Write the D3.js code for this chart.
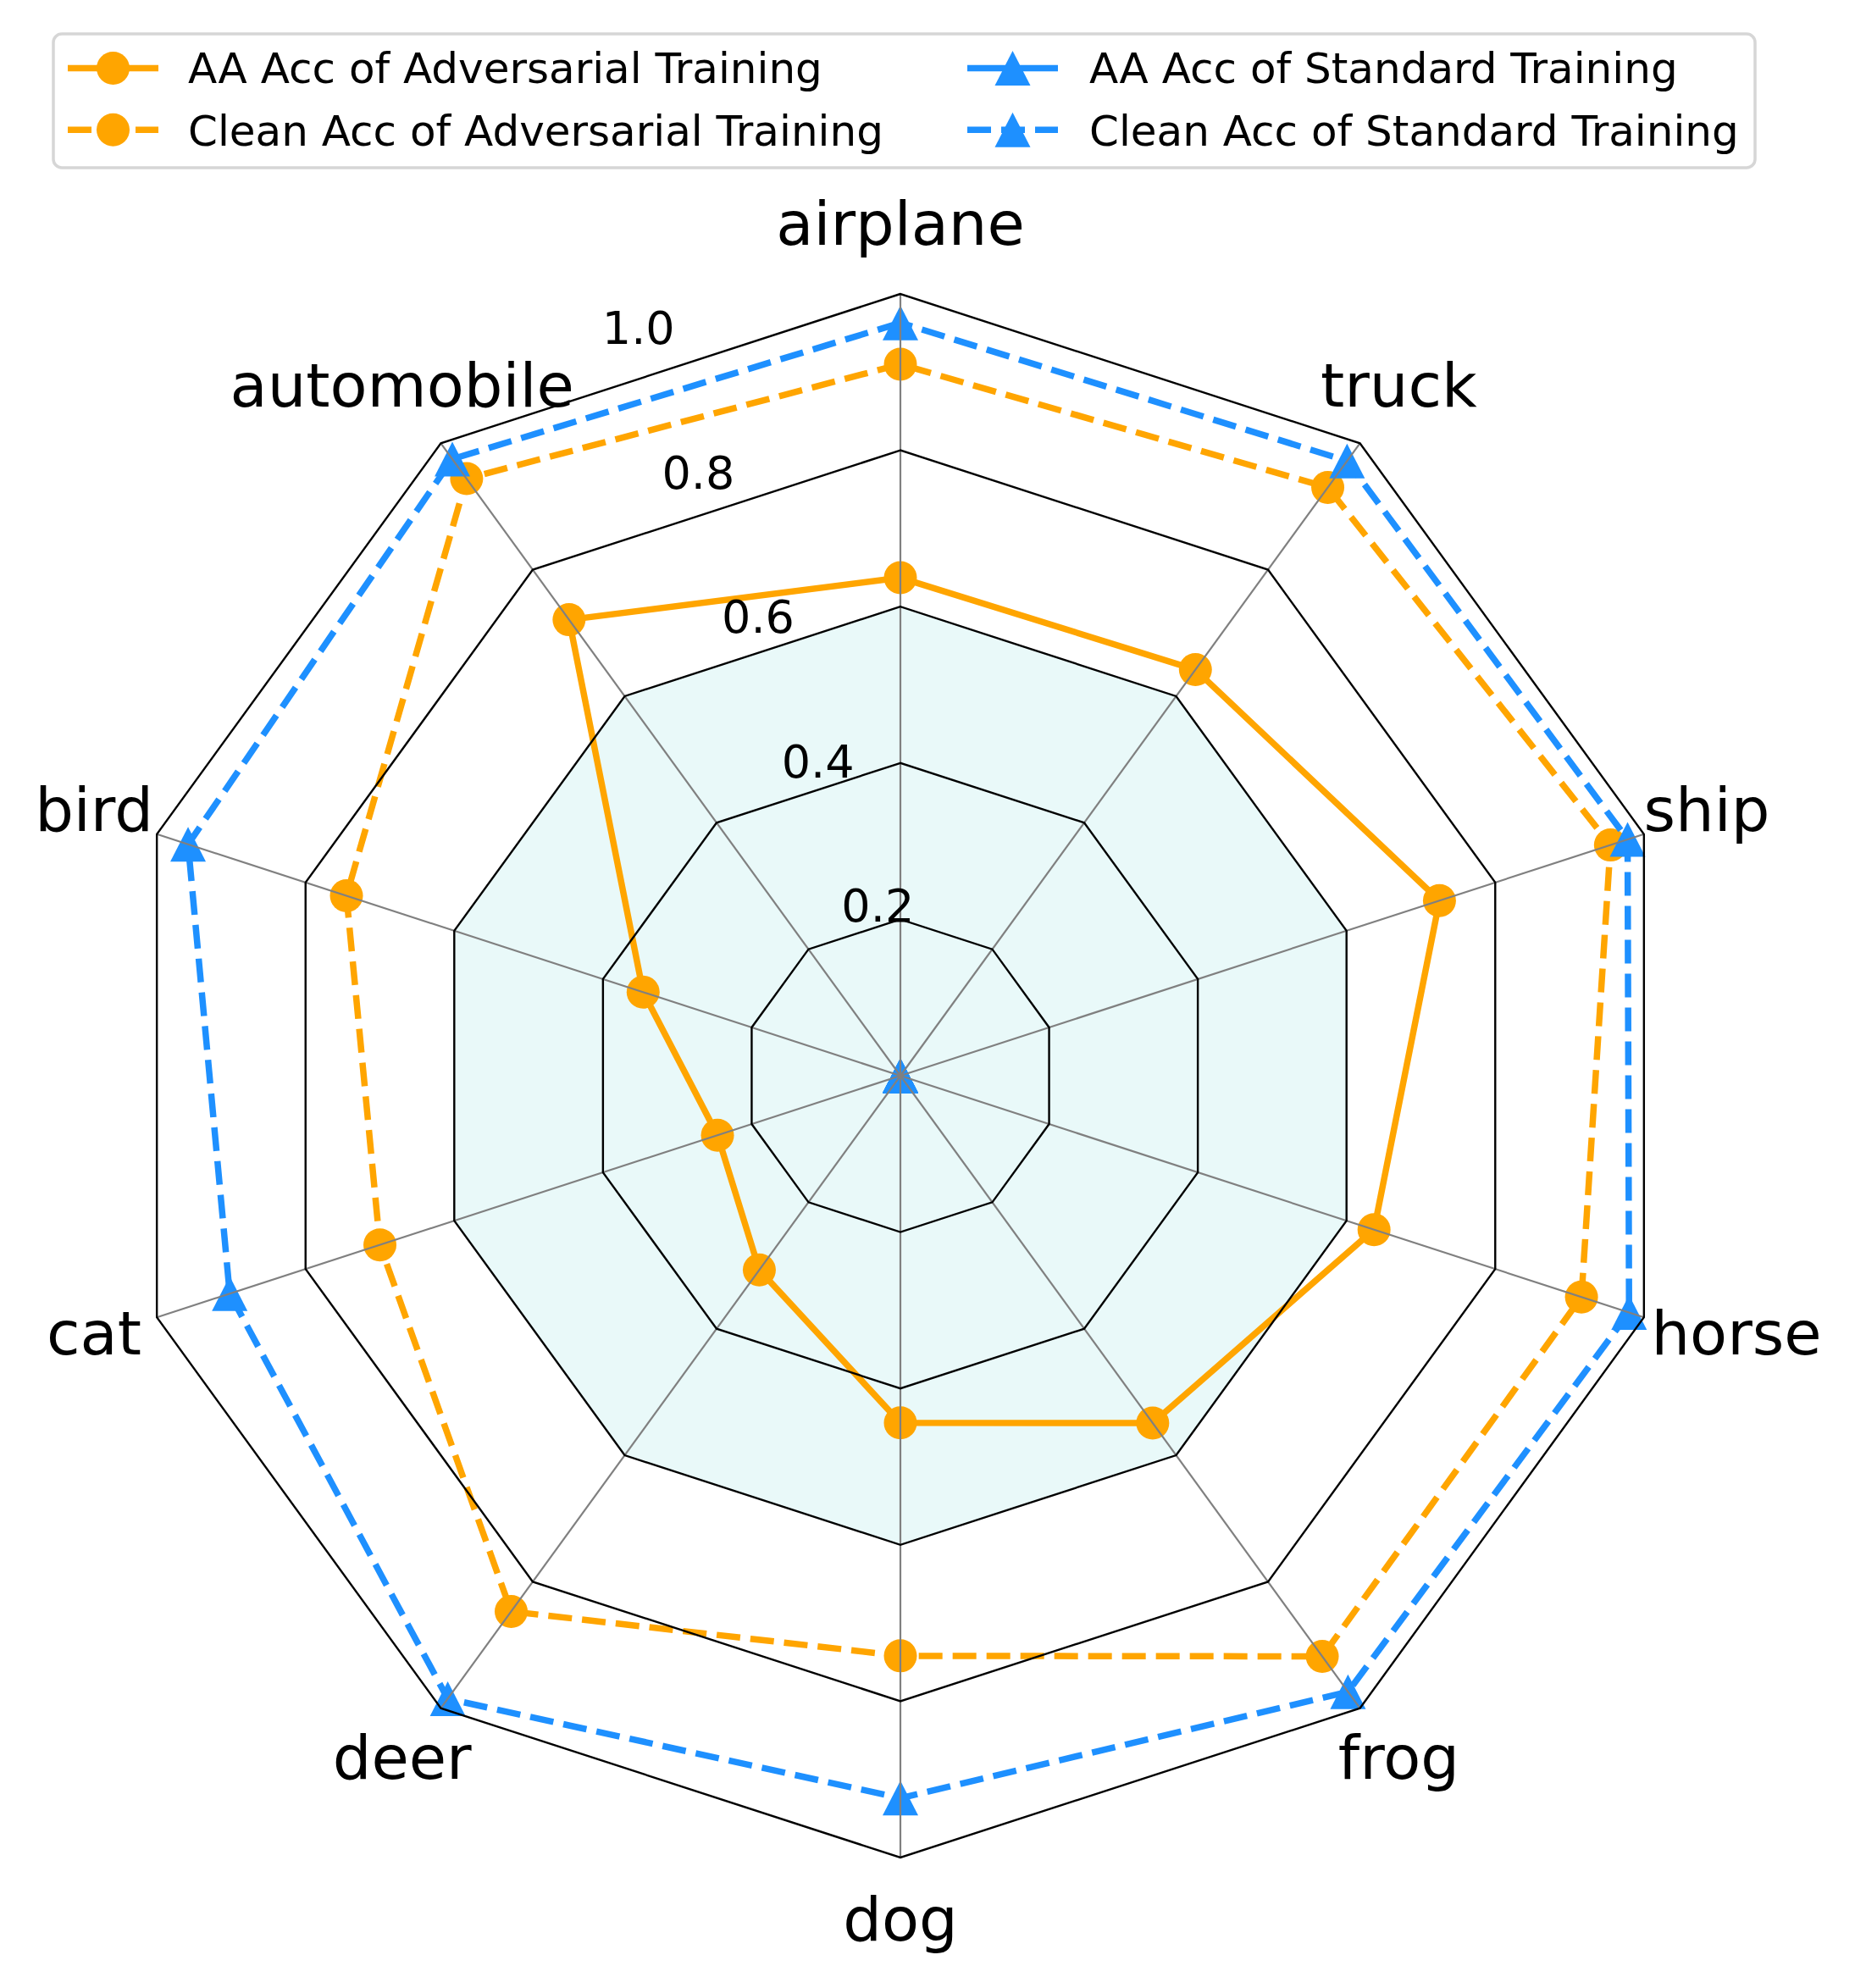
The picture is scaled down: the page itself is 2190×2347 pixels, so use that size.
<!DOCTYPE html>
<html><head><meta charset="utf-8">
<script src="https://cdn.jsdelivr.net/npm/d3@7"></script>
<style>body{margin:0;background:#fff} text{font-family:"DejaVu Sans",sans-serif;fill:#000}</style>
</head><body><svg id="chart" width="2190" height="2347" xmlns="http://www.w3.org/2000/svg"></svg>
<script>
// ---- data ----
const categories = ["airplane","automobile","bird","cat","deer","dog","frog","horse","ship","truck"];
const aaAdv    = [0.637, 0.721, 0.346, 0.246, 0.307, 0.444, 0.549, 0.637, 0.725, 0.642];
const cleanAdv = [0.910, 0.944, 0.745, 0.700, 0.847, 0.742, 0.918, 0.916, 0.955, 0.930];
const aaStd    = [0, 0, 0, 0, 0, 0, 0, 0, 0, 0];
const cleanStd = [0.963, 0.975, 0.958, 0.902, 0.985, 0.924, 0.974, 0.980, 0.978, 0.972];
const radialTicks = [0.2, 0.4, 0.6, 0.8, 1.0];
const radialTickLabels = ["0.2", "0.4", "0.6", "0.8", "1.0"];
const seriesNames = ["AA Acc of Adversarial Training", "Clean Acc of Adversarial Training",
                     "AA Acc of Standard Training", "Clean Acc of Standard Training"];

// ---- layout ----
const cx = 1063, cy = 1270, R = 923;
const ORANGE = "#FFA500", BLUE = "#1E90FF";
const LW = 7.5, DASH = "28,12";
const svg = d3.select("#chart");
svg.append("rect").attr("width", 2190).attr("height", 2347).attr("fill", "#fff");

const n = categories.length;
const rScale = d3.scaleLinear().domain([0, 1]).range([0, R]);
const angle = d3.scaleLinear().domain([0, n]).range([0, -2 * Math.PI]); // CCW from top
const px = (i, v) => rScale(v) * Math.sin(angle(i));
const py = (i, v) => -rScale(v) * Math.cos(angle(i));

const g = svg.append("g").attr("transform", `translate(${cx},${cy})`);
const ringPath = v => d3.lineRadial()
  .angle((d, i) => angle(i)).radius(() => rScale(v))
  .curve(d3.curveLinearClosed)(categories);

// shaded inner region
g.append("path").attr("d", ringPath(0.6)).attr("fill", "#e9f9f9");

// series
const series = [
  {name: seriesNames[0], values: aaAdv,    color: ORANGE, dash: null, marker: "circle"},
  {name: seriesNames[1], values: cleanAdv, color: ORANGE, dash: DASH, marker: "circle"},
  {name: seriesNames[2], values: aaStd,    color: BLUE,   dash: null, marker: "triangle"},
  {name: seriesNames[3], values: cleanStd, color: BLUE,   dash: DASH, marker: "triangle"}
];
const triPath = "M0,-20.5L21,20.5L-21,20.5Z";
function drawMarker(sel, s, x, y) {
  if (s.marker === "circle")
    sel.append("circle").attr("cx", x).attr("cy", y).attr("r", 19.5).attr("fill", s.color);
  else
    sel.append("path").attr("d", triPath).attr("transform", `translate(${x},${y})`).attr("fill", s.color);
}
series.forEach(s => {
  const line = d3.lineRadial().angle((d, i) => angle(i)).radius(d => rScale(d)).curve(d3.curveLinearClosed);
  g.append("path").attr("d", line(s.values)).attr("fill", "none")
    .attr("stroke", s.color).attr("stroke-width", LW)
    .attr("stroke-linejoin", "round").attr("stroke-dasharray", s.dash);
  const mg = g.append("g");
  s.values.forEach((v, i) => drawMarker(mg, s, px(i, v), py(i, v)));
});

// spokes
categories.forEach((c, i) => {
  g.append("line").attr("x1", 0).attr("y1", 0).attr("x2", px(i, 1)).attr("y2", py(i, 1))
    .attr("stroke", "#808080").attr("stroke-width", 2.2);
});
// rings
radialTicks.forEach(t => {
  g.append("path").attr("d", ringPath(t)).attr("fill", "none")
    .attr("stroke", "#000").attr("stroke-width", 2.4).attr("stroke-linejoin", "miter");
});

// radial tick labels (22.5 deg CCW from top)
const rlAng = -22.5 * Math.PI / 180;
radialTicks.forEach((t, k) => {
  g.append("text").attr("x", rScale(t) * Math.sin(rlAng) + 1).attr("y", -rScale(t) * Math.cos(rlAng) - 11)
    .attr("font-size", 54).attr("text-anchor", "start").text(radialTickLabels[k]);
});

// category labels
const labelR = 1001, CATFS = 72;
const nudge = {horse: 35};
categories.forEach((c, i) => {
  const a = angle(i);
  g.append("text")
    .attr("x", labelR * Math.sin(a) + (nudge[c] || 0))
    .attr("y", -labelR * Math.cos(a) + 0.276 * CATFS)
    .attr("font-size", CATFS).attr("text-anchor", "middle").text(c);
});

// legend
const leg = svg.append("g");
leg.append("rect").attr("x", 63).attr("y", 40).attr("width", 2009).attr("height", 158).attr("rx", 10)
  .attr("fill", "#fff").attr("stroke", "#d6d6d6").attr("stroke-width", 3.5);
const colX = [80, 1142], textX = [222, 1286], rowY = [80.5, 153.3], baseY = [98, 172];
const HL = 107;
series.forEach((s, k) => {
  const col = Math.floor(k / 2), row = k % 2;
  const x0 = colX[col], y = rowY[row];
  leg.append("line").attr("x1", x0).attr("x2", x0 + HL).attr("y1", y).attr("y2", y)
    .attr("stroke", s.color).attr("stroke-width", LW).attr("stroke-dasharray", s.dash);
  drawMarker(leg, s, x0 + HL / 2, y);
  leg.append("text").attr("x", textX[col]).attr("y", baseY[row]).attr("font-size", 50).text(s.name);
});
</script></body></html>
